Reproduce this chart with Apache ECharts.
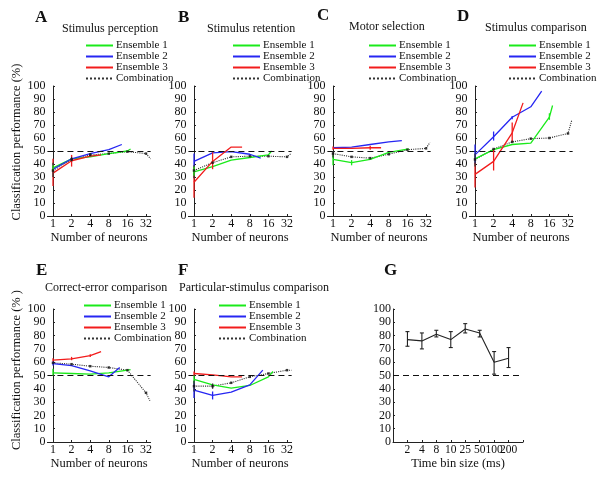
<!DOCTYPE html>
<html><head><meta charset="utf-8">
<script src="https://cdn.jsdelivr.net/npm/echarts@6/dist/echarts.min.js"></script>
<style>html,body{margin:0;padding:0;background:#fff}#c{width:600px;height:496px}</style>
</head><body><div id="c"></div>
<script>
// ---------- data ----------
const neuronTicks = [1, 2, 4, 8, 16, 32];
const seriesNames = ['Ensemble 1', 'Ensemble 2', 'Ensemble 3', 'Combination'];

// [number of neurons, classification performance %]
const A_e1 = [[1,37],[2,44],[4,45.5],[8,48],[16,50],[18,51.5]];
const A_e2 = [[1,36],[2,44],[4,48],[8,51],[13,55]];
const A_e3 = [[1,33],[2,42.5],[4,46],[6,47]];
const A_comb = [[1,35],[2,43.5],[4,47],[8,48],[16,49.5],[32,48],[38,44]];
// error bars: [neurons, low, high, series index]
const A_err = [[1,23,44,2],[2,38,47,2],[1,30,41,3],[1,35,39,0],[2,42,45.5,3],[4,46,48.5,3]];

const B_e1 = [[1,34],[2,38],[4,43],[8,45],[16,47],[18,50]];
const B_e2 = [[1,42],[2,48.5],[4,49.5],[8,47.5],[12,44.5]];
const B_e3 = [[1,26],[2,42],[4,53],[6,53]];
const B_comb = [[1,35],[2,41],[4,45.5],[8,46],[16,46],[32,45.5],[37,48]];
const B_err = [[1,37,48,1],[1,14,38,2],[2,36,49,2],[1,29,39,3],[1,31,38,0]];

const C_e1 = [[1,43.5],[2,41],[4,43.5],[8,49],[16,51.5],[17,51.5]];
const C_e2 = [[1,52.5],[2,53],[4,55],[8,57],[13,58]];
const C_e3 = [[1,52],[2,52],[4,52.5],[6,52.5]];
const C_comb = [[1,48],[2,45.5],[4,44.5],[8,47.5],[16,51],[32,52],[37,56.5]];
const C_err = [[1,39,47,0],[2,39,43,0],[1,45,50,3],[1,51,53.5,2],[4,51,54,2]];

const D_e1 = [[1,44],[2,51],[4,55],[8,56],[16,76],[18,85]];
const D_e2 = [[1,47],[2,61],[4,76],[8,84],[12,96]];
const D_e3 = [[1,32],[2,42],[4,64],[6,87]];
const D_comb = [[1,43.5],[2,51.5],[4,57],[8,59.5],[16,60],[32,63.5],[37,74]];
const D_err = [[1,40,55,1],[2,58,65,1],[1,22,41,2],[2,35,51,2],[4,57,72,2],[1,38,48,3],[16,74,79,0],[4,74.5,77,1]];

const E_e1 = [[1,52],[2,51.5],[4,51],[8,52],[16,54],[18,54.5]];
const E_e2 = [[1,59],[2,57.5],[4,53.5],[8,49],[12,56]];
const E_e3 = [[1,61.5],[2,62.5],[4,65],[6,68]];
const E_comb = [[1,59.5],[2,58.5],[4,57],[8,56],[16,54],[32,37],[37,31]];
const E_err = [[1,50,55,0],[1,60.5,63,2],[1,57.5,60.5,1],[2,61.5,64,2],[4,64,66,2]];

const F_e1 = [[1,47],[2,43],[4,40.5],[8,42.5],[16,49],[19,53]];
const F_e2 = [[1,39],[2,35],[4,37.5],[8,43],[13,54]];
const F_e3 = [[1,51.5],[2,50.5],[4,49],[6,49]];
const F_comb = [[1,42],[2,42],[4,44.5],[8,49],[16,51.5],[32,54],[38,54]];
const F_err = [[1,33,46,1],[2,32,38,1],[1,44,50,0],[1,50,53,2],[1,38,46,3],[2,40,44,3]];

const G_bins = ['2','4','8','10','25','50','100','200'];
const G_mean = [77, 76, 81, 77, 85, 82, 60, 63];
const G_low  = [72, 70, 79, 71, 82, 79, 51, 56];
const G_high = [83, 82, 84, 83, 89, 84, 68, 71];

// ---------- styles / layout ----------
const FONT = "'Liberation Serif','Times New Roman',serif";
const COLORS = ['#1aea1a', '#2626f2', '#f21c1c', '#333333'];
const OCT = 18.6;           // px per doubling
const XMIN = -0.3, XMAX = 5.25;
const XW = (XMAX - XMIN) * OCT;

const panels = [
  {letter:'A', title:'Stimulus perception', x1:53,  top:86,  h:130, lines:[A_e1,A_e2,A_e3,A_comb], err:A_err, lg:[85,40],  tl:[62,23],  ll:[35,9],   yName:'Classification performance (%)', yShift:18},
  {letter:'B', title:'Stimulus retention',  x1:194, top:86,  h:130, lines:[B_e1,B_e2,B_e3,B_comb], err:B_err, lg:[232,40], tl:[207,23], ll:[178,9]},
  {letter:'C', title:'Motor selection',     x1:333, top:86,  h:130, lines:[C_e1,C_e2,C_e3,C_comb], err:C_err, lg:[368,40], tl:[349,21], ll:[317,7]},
  {letter:'D', title:'Stimulus comparison', x1:475, top:86,  h:130, lines:[D_e1,D_e2,D_e3,D_comb], err:D_err, lg:[508,40], tl:[485,22], ll:[457,8]},
  {letter:'E', title:'Correct-error comparison', x1:53, top:309, h:133, lines:[E_e1,E_e2,E_e3,E_comb], err:E_err, lg:[83,300], tl:[45,282], ll:[36,262], yName:'Classification performance (% )', yShift:11},
  {letter:'F', title:'Particular-stimulus comparison', x1:194, top:309, h:133, lines:[F_e1,F_e2,F_e3,F_comb], err:F_err, lg:[218,300], tl:[179,282], ll:[178,262]}
];

const grids = [], xAxes = [], yAxes = [], series = [], titles = [], legends = [];
const axisLineStyle = {color:'#222', width:1};
const labelStyle = {fontFamily:FONT, fontSize:12, color:'#111'};

function yAxisCfg(i, name, shift) {
  const c = {
    gridIndex:i, type:'value', min:0, max:100, interval:10,
    axisLine:{show:true, lineStyle:axisLineStyle},
    axisTick:{show:true, inside:true, length:2, lineStyle:axisLineStyle},
    axisLabel:Object.assign({margin:2}, labelStyle),
    splitLine:{show:false}
  };
  if (name) {
    c.name = name; c.nameLocation = 'middle'; c.nameGap = 23;
    c.nameTextStyle = {fontFamily:FONT, fontSize:12.5, color:'#111', padding:[0,0,0,shift || 0]};
  }
  return c;
}

function errSeries(i, data, caps) {
  return {
    type:'custom', name:'err' + i, xAxisIndex:i, yAxisIndex:i, silent:true, z:5,
    encode:{x:0, y:[1,2]},
    data:data,
    renderItem:function(params, api) {
      const x = api.value(0), lo = api.value(1), hi = api.value(2), ci = api.value(3);
      const p1 = api.coord([x, lo]), p2 = api.coord([x, hi]);
      const col = COLORS[ci];
      const children = [{type:'line', shape:{x1:p1[0], y1:p1[1], x2:p2[0], y2:p2[1]}, style:{stroke:col, lineWidth:1.3}}];
      if (caps) {
        children.push({type:'line', shape:{x1:p1[0]-2, y1:p1[1], x2:p1[0]+2, y2:p1[1]}, style:{stroke:col, lineWidth:1}});
        children.push({type:'line', shape:{x1:p2[0]-2, y1:p2[1], x2:p2[0]+2, y2:p2[1]}, style:{stroke:col, lineWidth:1}});
      }
      return {type:'group', children:children};
    }
  };
}

const dashLine = {silent:true, symbol:'none', label:{show:false}, data:[{yAxis:50}],
  lineStyle:{color:'#111', type:[6,4], width:1}};

panels.forEach(function(p, i) {
  grids.push({left:p.x1 + XMIN*OCT, top:p.top, width:XW, height:p.h});
  xAxes.push({
    gridIndex:i, type:'value', min:XMIN, max:XMAX,
    axisLine:{show:true, onZero:false, lineStyle:axisLineStyle},
    axisTick:{show:true, inside:true, length:2, lineStyle:axisLineStyle, customValues:neuronTicks.map(Math.log2)},
    axisLabel:Object.assign({margin:2, hideOverlap:false, customValues:neuronTicks.map(Math.log2),
      formatter:function(v){ return String(Math.round(Math.pow(2, v))); }}, labelStyle),
    splitLine:{show:false},
    name:'Number of neurons', nameLocation:'middle', nameGap:p.top < 200 ? 8 : 14,
    nameTextStyle:{fontFamily:FONT, fontSize:12.5, color:'#111'}
  });
  yAxes.push(yAxisCfg(i, p.yName, p.yShift));
  p.lines.forEach(function(arr, k) {
    const s = {
      type:'line', name:seriesNames[k], xAxisIndex:i, yAxisIndex:i,
      data:arr.map(function(d){ return [Math.log2(d[0]), d[1]]; }),
      symbol:'none', silent:true, z:k === 3 ? 3 : 4,
      lineStyle:{color:COLORS[k], width:k === 3 ? 1.1 : 1.3, type:k === 3 ? 'dotted' : 'solid'},
      itemStyle:{color:COLORS[k]}
    };
    if (k === 0) s.markLine = dashLine;
    series.push(s);
  });
  const comb = p.lines[3];
  series.push({
    type:'scatter', name:'pts' + i, xAxisIndex:i, yAxisIndex:i, silent:true, z:6,
    symbol:'rect', symbolSize:2.5, itemStyle:{color:'#111'},
    data:comb.slice(0, comb.length - 1).map(function(d){ return [Math.log2(d[0]), d[1]]; })
  });
  series.push(errSeries(i, p.err.map(function(e){ return [Math.log2(e[0]), e[1], e[2], e[3]]; }), false));
  titles.push({text:p.letter, left:p.ll[0], top:p.ll[1], padding:0,
    textStyle:{fontFamily:FONT, fontSize:17, fontWeight:'bold', color:'#111'}});
  titles.push({text:p.title, left:p.tl[0], top:p.tl[1], padding:0,
    textStyle:{fontFamily:FONT, fontSize:12, fontWeight:'normal', color:'#111'}});
  legends.push({
    data:seriesNames, orient:'vertical', left:p.lg[0], top:p.lg[1], padding:0,
    itemWidth:27, itemHeight:9.4, itemGap:0, selectedMode:false,
    itemStyle:{color:'rgba(0,0,0,0)', borderColor:'rgba(0,0,0,0)', borderWidth:0, opacity:0},
    textStyle:{fontFamily:FONT, fontSize:11, color:'#111', lineHeight:9.4, padding:[0,0,0,-2]}
  });
});

// Panel G (category axis, padded with one empty slot at each end)
const gi = panels.length;
const gCats = [''].concat(G_bins, ['']);
grids.push({left:393, top:309, width:130, height:133});
xAxes.push({
  gridIndex:gi, type:'category', data:gCats, boundaryGap:false,
  axisLine:{show:true, onZero:false, lineStyle:axisLineStyle},
  axisTick:{show:true, inside:true, length:2, lineStyle:axisLineStyle, interval:0},
  axisLabel:{margin:2, interval:0, hideOverlap:false, showMaxLabel:true, showMinLabel:true,
    fontFamily:FONT, fontSize:11.5, color:'#111'},
  splitLine:{show:false},
  name:'Time bin size (ms)', nameLocation:'middle', nameGap:14,
  nameTextStyle:{fontFamily:FONT, fontSize:12.5, color:'#111'}
});
yAxes.push(yAxisCfg(gi));
series.push({
  type:'line', name:'Time bin', xAxisIndex:gi, yAxisIndex:gi, silent:true,
  data:G_mean.map(function(v, j){ return [G_bins[j], v]; }),
  symbol:'none', lineStyle:{color:'#222', width:1.1}, markLine:dashLine
});
series.push({
  type:'custom', name:'errG', xAxisIndex:gi, yAxisIndex:gi, silent:true, z:5,
  encode:{x:0, y:[1,2]},
  data:G_mean.map(function(v, j){ return [G_bins[j], G_low[j], G_high[j]]; }),
  renderItem:function(params, api) {
    const p1 = api.coord([api.value(0), api.value(1)]), p2 = api.coord([api.value(0), api.value(2)]);
    const st = {stroke:'#222', lineWidth:1.1};
    return {type:'group', children:[
      {type:'line', shape:{x1:p1[0], y1:p1[1], x2:p2[0], y2:p2[1]}, style:st},
      {type:'line', shape:{x1:p1[0]-2, y1:p1[1], x2:p1[0]+2, y2:p1[1]}, style:st},
      {type:'line', shape:{x1:p2[0]-2, y1:p2[1], x2:p2[0]+2, y2:p2[1]}, style:st}
    ]};
  }
});
titles.push({text:'G', left:384, top:262, padding:0,
  textStyle:{fontFamily:FONT, fontSize:17, fontWeight:'bold', color:'#111'}});

const chart = echarts.init(document.getElementById('c'), null, {renderer:'canvas'});
chart.setOption({
  backgroundColor:'#fff', animation:false,
  title:titles, legend:legends, grid:grids, xAxis:xAxes, yAxis:yAxes, series:series
});
</script></body></html>
